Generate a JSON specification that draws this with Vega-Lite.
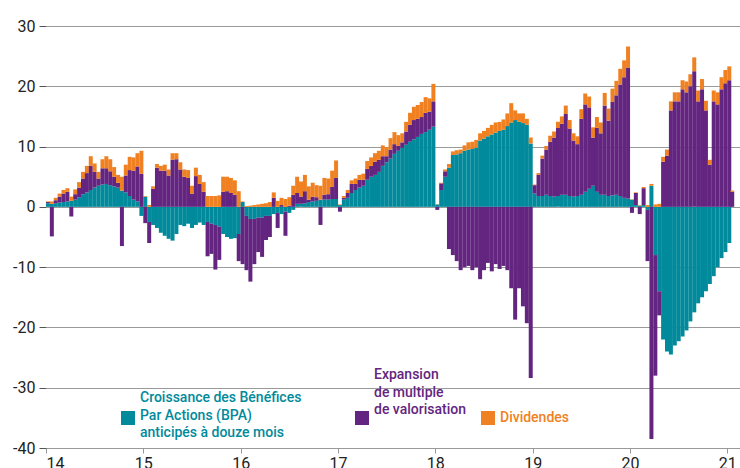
{
"$schema": "https://vega.github.io/schema/vega-lite/v6.json",
"width": 694, "height": 422,
"autosize": {"type": "none"},
"padding": {"left": 46, "top": 26, "right": 0, "bottom": 20},
"background": "white",
"config": {"view": {"stroke": null}, "font": "Roboto"},
"data": {"values": [
{"t":14.02,"benefices":0.6,"multiple":0.2,"rendement":0.1},
{"t":14.06,"benefices":0.5,"multiple":-4.9,"rendement":0.4},
{"t":14.10,"benefices":0.6,"multiple":0.5,"rendement":0.4},
{"t":14.14,"benefices":0.7,"multiple":1.0,"rendement":0.5},
{"t":14.18,"benefices":0.8,"multiple":1.4,"rendement":0.6},
{"t":14.22,"benefices":0.9,"multiple":1.6,"rendement":0.6},
{"t":14.26,"benefices":1.0,"multiple":-1.6,"rendement":0.7},
{"t":14.30,"benefices":1.2,"multiple":0.9,"rendement":0.8},
{"t":14.34,"benefices":1.6,"multiple":1.6,"rendement":0.9},
{"t":14.38,"benefices":2.1,"multiple":2.6,"rendement":1.1},
{"t":14.42,"benefices":2.4,"multiple":3.2,"rendement":1.2},
{"t":14.46,"benefices":2.8,"multiple":4.0,"rendement":1.6},
{"t":14.50,"benefices":3.2,"multiple":2.6,"rendement":1.4},
{"t":14.54,"benefices":3.5,"multiple":1.2,"rendement":1.1},
{"t":14.58,"benefices":3.7,"multiple":2.7,"rendement":1.5},
{"t":14.62,"benefices":3.8,"multiple":2.6,"rendement":2.0},
{"t":14.66,"benefices":3.6,"multiple":2.3,"rendement":2.0},
{"t":14.70,"benefices":3.4,"multiple":1.6,"rendement":1.6},
{"t":14.74,"benefices":3.2,"multiple":0.8,"rendement":1.3},
{"t":14.78,"benefices":2.7,"multiple":-6.5,"rendement":2.3},
{"t":14.82,"benefices":2.4,"multiple":2.8,"rendement":1.8},
{"t":14.86,"benefices":1.8,"multiple":4.3,"rendement":2.2},
{"t":14.90,"benefices":1.2,"multiple":4.8,"rendement":2.2},
{"t":14.94,"benefices":0.9,"multiple":5.8,"rendement":2.2},
{"t":14.98,"benefices":-1.5,"multiple":5.5,"rendement":3.8},
{"t":15.02,"benefices":1.7,"multiple":-2.7,"rendement":0.1},
{"t":15.06,"benefices":-2.5,"multiple":-3.5,"rendement":0.3},
{"t":15.10,"benefices":-3.0,"multiple":3.0,"rendement":0.4},
{"t":15.14,"benefices":-3.5,"multiple":6.5,"rendement":0.6},
{"t":15.18,"benefices":-4.3,"multiple":6.0,"rendement":0.8},
{"t":15.22,"benefices":-4.8,"multiple":6.0,"rendement":1.0},
{"t":15.26,"benefices":-5.3,"multiple":5.2,"rendement":1.0},
{"t":15.30,"benefices":-5.6,"multiple":7.8,"rendement":1.1},
{"t":15.34,"benefices":-4.5,"multiple":7.9,"rendement":1.0},
{"t":15.38,"benefices":-3.0,"multiple":6.2,"rendement":1.2},
{"t":15.42,"benefices":-3.2,"multiple":5.0,"rendement":1.2},
{"t":15.46,"benefices":-2.8,"multiple":4.8,"rendement":1.3},
{"t":15.50,"benefices":-3.5,"multiple":2.2,"rendement":1.3},
{"t":15.54,"benefices":-3.0,"multiple":5.1,"rendement":1.4},
{"t":15.58,"benefices":-2.6,"multiple":3.8,"rendement":1.5},
{"t":15.62,"benefices":-3.0,"multiple":2.5,"rendement":1.6},
{"t":15.66,"benefices":-2.5,"multiple":-5.7,"rendement":1.8},
{"t":15.70,"benefices":-2.8,"multiple":-5.0,"rendement":1.8},
{"t":15.74,"benefices":-3.0,"multiple":-7.4,"rendement":1.8},
{"t":15.78,"benefices":-3.3,"multiple":-5.5,"rendement":1.9},
{"t":15.82,"benefices":-4.5,"multiple":2.5,"rendement":2.5},
{"t":15.86,"benefices":-5.0,"multiple":2.6,"rendement":2.4},
{"t":15.90,"benefices":-5.3,"multiple":2.3,"rendement":2.5},
{"t":15.94,"benefices":-5.2,"multiple":2.0,"rendement":2.4},
{"t":15.98,"benefices":-4.5,"multiple":-4.5,"rendement":2.6},
{"t":16.02,"benefices":0.8,"multiple":-9.5,"rendement":0.1},
{"t":16.06,"benefices":-1.5,"multiple":-9.0,"rendement":0.15},
{"t":16.10,"benefices":-2.0,"multiple":-10.4,"rendement":0.2},
{"t":16.14,"benefices":-2.0,"multiple":-7.5,"rendement":0.3},
{"t":16.18,"benefices":-1.8,"multiple":-5.7,"rendement":0.4},
{"t":16.22,"benefices":-1.8,"multiple":-6.5,"rendement":0.5},
{"t":16.26,"benefices":-1.5,"multiple":-4.0,"rendement":0.6},
{"t":16.30,"benefices":-1.5,"multiple":-3.5,"rendement":0.8},
{"t":16.34,"benefices":-1.2,"multiple":1.5,"rendement":0.9},
{"t":16.38,"benefices":-1.0,"multiple":-2.5,"rendement":1.0},
{"t":16.42,"benefices":-1.2,"multiple":0.3,"rendement":1.2},
{"t":16.46,"benefices":-0.8,"multiple":-4.0,"rendement":1.3},
{"t":16.50,"benefices":-1.0,"multiple":0.2,"rendement":1.4},
{"t":16.54,"benefices":-0.5,"multiple":2.0,"rendement":1.5},
{"t":16.58,"benefices":0.5,"multiple":1.8,"rendement":2.7},
{"t":16.62,"benefices":0.5,"multiple":1.2,"rendement":2.5},
{"t":16.66,"benefices":0.6,"multiple":2.0,"rendement":2.7},
{"t":16.70,"benefices":0.8,"multiple":0.4,"rendement":2.2},
{"t":16.74,"benefices":0.9,"multiple":0.8,"rendement":2.3},
{"t":16.78,"benefices":1.0,"multiple":0.6,"rendement":2.0},
{"t":16.82,"benefices":1.2,"multiple":-3.0,"rendement":2.3},
{"t":16.86,"benefices":1.2,"multiple":0.8,"rendement":2.8},
{"t":16.90,"benefices":1.2,"multiple":0.9,"rendement":2.6},
{"t":16.94,"benefices":1.3,"multiple":2.0,"rendement":2.7},
{"t":16.98,"benefices":1.3,"multiple":3.5,"rendement":2.9},
{"t":17.02,"benefices":0.3,"multiple":-0.8,"rendement":0.1},
{"t":17.06,"benefices":1.2,"multiple":0.3,"rendement":0.3},
{"t":17.10,"benefices":1.5,"multiple":0.8,"rendement":0.5},
{"t":17.14,"benefices":2.3,"multiple":1.5,"rendement":0.6},
{"t":17.18,"benefices":2.8,"multiple":1.0,"rendement":0.9},
{"t":17.22,"benefices":3.2,"multiple":1.3,"rendement":0.8},
{"t":17.26,"benefices":3.5,"multiple":1.0,"rendement":1.0},
{"t":17.30,"benefices":4.5,"multiple":1.8,"rendement":1.3},
{"t":17.34,"benefices":5.0,"multiple":1.8,"rendement":1.4},
{"t":17.38,"benefices":5.3,"multiple":2.2,"rendement":1.4},
{"t":17.42,"benefices":5.8,"multiple":2.0,"rendement":1.5},
{"t":17.46,"benefices":6.8,"multiple":1.6,"rendement":1.8},
{"t":17.50,"benefices":7.4,"multiple":1.0,"rendement":1.5},
{"t":17.54,"benefices":8.0,"multiple":1.5,"rendement":1.9},
{"t":17.58,"benefices":8.8,"multiple":1.6,"rendement":2.0},
{"t":17.62,"benefices":9.3,"multiple":0.8,"rendement":1.8},
{"t":17.66,"benefices":9.8,"multiple":0.9,"rendement":1.5},
{"t":17.70,"benefices":10.3,"multiple":2.2,"rendement":1.6},
{"t":17.74,"benefices":10.8,"multiple":2.8,"rendement":2.0},
{"t":17.78,"benefices":11.2,"multiple":3.2,"rendement":2.2},
{"t":17.82,"benefices":11.6,"multiple":3.0,"rendement":2.3},
{"t":17.86,"benefices":12.1,"multiple":2.8,"rendement":2.5},
{"t":17.90,"benefices":12.4,"multiple":3.2,"rendement":2.6},
{"t":17.94,"benefices":12.8,"multiple":3.0,"rendement":2.2},
{"t":17.98,"benefices":13.3,"multiple":4.2,"rendement":2.9},
{"t":18.02,"benefices":0.4,"multiple":-0.5,"rendement":0.05},
{"t":18.06,"benefices":2.8,"multiple":1.1,"rendement":0.1},
{"t":18.10,"benefices":5.0,"multiple":0.9,"rendement":0.3},
{"t":18.14,"benefices":6.5,"multiple":-7.0,"rendement":0.6},
{"t":18.18,"benefices":8.6,"multiple":-8.0,"rendement":0.6},
{"t":18.22,"benefices":8.7,"multiple":-9.0,"rendement":0.7},
{"t":18.26,"benefices":8.9,"multiple":-10.5,"rendement":0.6},
{"t":18.30,"benefices":9.3,"multiple":-10.0,"rendement":0.9},
{"t":18.34,"benefices":9.5,"multiple":-9.8,"rendement":1.2},
{"t":18.38,"benefices":9.6,"multiple":-10.5,"rendement":1.2},
{"t":18.42,"benefices":9.8,"multiple":-10.0,"rendement":1.3},
{"t":18.46,"benefices":11.0,"multiple":-12.0,"rendement":1.2},
{"t":18.50,"benefices":11.3,"multiple":-10.5,"rendement":1.3},
{"t":18.54,"benefices":11.7,"multiple":-9.3,"rendement":1.4},
{"t":18.58,"benefices":12.0,"multiple":-10.7,"rendement":1.6},
{"t":18.62,"benefices":12.3,"multiple":-9.5,"rendement":1.7},
{"t":18.66,"benefices":12.6,"multiple":-10.3,"rendement":1.5},
{"t":18.70,"benefices":12.8,"multiple":-9.8,"rendement":1.7},
{"t":18.74,"benefices":13.4,"multiple":-10.5,"rendement":2.1},
{"t":18.78,"benefices":14.0,"multiple":-13.5,"rendement":3.2},
{"t":18.82,"benefices":14.4,"multiple":-18.7,"rendement":1.6},
{"t":18.86,"benefices":14.1,"multiple":-13.5,"rendement":1.4},
{"t":18.90,"benefices":13.9,"multiple":-16.5,"rendement":1.6},
{"t":18.94,"benefices":13.6,"multiple":-19.3,"rendement":1.0},
{"t":18.98,"benefices":10.5,"multiple":-28.4,"rendement":1.0},
{"t":19.02,"benefices":2.2,"multiple":1.4,"rendement":0.1},
{"t":19.06,"benefices":1.8,"multiple":3.5,"rendement":0.3},
{"t":19.10,"benefices":1.8,"multiple":6.2,"rendement":0.5},
{"t":19.14,"benefices":2.0,"multiple":7.5,"rendement":0.6},
{"t":19.18,"benefices":1.8,"multiple":9.0,"rendement":1.0},
{"t":19.22,"benefices":1.7,"multiple":9.8,"rendement":1.0},
{"t":19.26,"benefices":1.8,"multiple":11.3,"rendement":1.0},
{"t":19.30,"benefices":2.0,"multiple":11.8,"rendement":1.2},
{"t":19.34,"benefices":2.0,"multiple":13.4,"rendement":1.4},
{"t":19.38,"benefices":1.8,"multiple":11.2,"rendement":1.4},
{"t":19.42,"benefices":1.7,"multiple":9.3,"rendement":1.2},
{"t":19.46,"benefices":1.8,"multiple":8.6,"rendement":1.3},
{"t":19.50,"benefices":2.0,"multiple":12.6,"rendement":1.6},
{"t":19.54,"benefices":2.5,"multiple":14.5,"rendement":1.8},
{"t":19.58,"benefices":3.0,"multiple":13.5,"rendement":1.8},
{"t":19.62,"benefices":3.5,"multiple":8.0,"rendement":1.7},
{"t":19.66,"benefices":2.5,"multiple":10.6,"rendement":1.8},
{"t":19.70,"benefices":2.0,"multiple":10.2,"rendement":1.8},
{"t":19.74,"benefices":2.0,"multiple":14.8,"rendement":2.1},
{"t":19.78,"benefices":1.8,"multiple":12.5,"rendement":2.0},
{"t":19.82,"benefices":1.9,"multiple":15.5,"rendement":2.2},
{"t":19.86,"benefices":2.0,"multiple":16.5,"rendement":2.4},
{"t":19.90,"benefices":1.8,"multiple":18.5,"rendement":2.6},
{"t":19.94,"benefices":1.5,"multiple":20.0,"rendement":2.8},
{"t":19.98,"benefices":1.4,"multiple":21.7,"rendement":3.5},
{"t":20.02,"benefices":1.2,"multiple":-1.0,"rendement":0.05},
{"t":20.06,"benefices":0.3,"multiple":2.0,"rendement":0.1},
{"t":20.10,"benefices":0.2,"multiple":-1.2,"rendement":0.1},
{"t":20.14,"benefices":0.3,"multiple":2.8,"rendement":0.2},
{"t":20.18,"benefices":-0.5,"multiple":-8.5,"rendement":0.3},
{"t":20.22,"benefices":3.5,"multiple":-38.5,"rendement":0.3},
{"t":20.26,"benefices":-8.0,"multiple":-20.0,"rendement":0.4},
{"t":20.30,"benefices":-14.0,"multiple":-4.0,"rendement":0.5},
{"t":20.34,"benefices":-22.0,"multiple":7.5,"rendement":0.8},
{"t":20.38,"benefices":-24.0,"multiple":8.5,"rendement":1.0},
{"t":20.42,"benefices":-24.5,"multiple":16.0,"rendement":1.5},
{"t":20.46,"benefices":-23.0,"multiple":17.5,"rendement":1.5},
{"t":20.50,"benefices":-22.3,"multiple":17.5,"rendement":1.5},
{"t":20.54,"benefices":-21.5,"multiple":19.5,"rendement":1.5},
{"t":20.58,"benefices":-20.5,"multiple":19.0,"rendement":1.8},
{"t":20.62,"benefices":-19.0,"multiple":20.0,"rendement":2.0},
{"t":20.66,"benefices":-17.5,"multiple":22.5,"rendement":2.3},
{"t":20.70,"benefices":-16.0,"multiple":17.5,"rendement":1.8},
{"t":20.74,"benefices":-15.0,"multiple":19.5,"rendement":1.7},
{"t":20.78,"benefices":-14.0,"multiple":16.0,"rendement":1.6},
{"t":20.82,"benefices":-12.8,"multiple":7.0,"rendement":0.8},
{"t":20.86,"benefices":-11.5,"multiple":17.5,"rendement":1.8},
{"t":20.90,"benefices":-10.0,"multiple":17.0,"rendement":2.0},
{"t":20.94,"benefices":-8.5,"multiple":19.5,"rendement":2.0},
{"t":20.98,"benefices":-7.5,"multiple":20.5,"rendement":2.2},
{"t":21.02,"benefices":-6.0,"multiple":21.0,"rendement":2.3},
{"t":21.05,"benefices":0.0,"multiple":2.5,"rendement":0.2}
]},
"transform": [{"fold": ["benefices", "multiple", "rendement"], "as": ["composante", "valeur"]}],
"mark": {"type": "bar", "size": 4},
"encoding": {
  "x": {"field": "t", "type": "quantitative",
        "scale": {"domain": [14, 21.13], "nice": false, "zero": false, "padding": 0},
        "axis": {"values": [14,15,16,17,18,19,20,21], "format": "d", "grid": false, "title": null,
                 "domainColor": "#999999", "tickColor": "#999999", "tickSize": 5,
                 "labelFont": "Roboto", "labelFontSize": 16, "labelColor": "#222222", "labelPadding": 2}},
  "y": {"field": "valeur", "type": "quantitative", "stack": "zero",
        "scale": {"domain": [-40, 30], "nice": false},
        "axis": {"values": [-40,-30,-20,-10,0,10,20,30], "domain": false, "grid": true, "gridColor": "#9a9a9a",
                 "gridWidth": 1, "tickColor": "#555555", "tickSize": 7, "title": null,
                 "labelFont": "Roboto", "labelFontSize": 16, "labelColor": "#222222", "labelPadding": 4,
                 "labelExpr": "toString(datum.value)"}},
  "color": {"field": "composante", "type": "nominal",
            "scale": {"domain": ["benefices", "multiple", "rendement"], "range": ["#008A9C", "#632580", "#F08122"]},
            "legend": {"title": null, "orient": "none", "legendX": 75, "legendY": 370, "direction": "horizontal",
                       "padding": 0, "symbolType": "square", "symbolSize": 196, "symbolStrokeWidth": 0,
                       "labelFont": "Roboto", "labelFontSize": 14, "labelFontWeight": 500, "labelOffset": 5,
                       "labelLimit": 400, "columnPadding": 11, "labelBaseline": "middle",
                       "labelExpr": "datum.value == 'benefices' ? ['Croissance des Bénéfices', 'Par Actions (BPA)', 'anticipés à douze mois'] : datum.value == 'multiple' ? ['Expansion', 'de multiple', 'de valorisation'] : 'Dividendes'",
                       "encode": {"labels": {"update": {"fill": {"scale": "color", "field": "value"}, "lineHeight": {"value": 17.5},
                                                        "dy": {"signal": "datum.value == 'benefices' ? -5 : datum.value == 'multiple' ? -43 : 0"},
                                                        "dx": {"signal": "datum.value == 'multiple' ? 42 : datum.value == 'rendement' ? 3 : 0"}}},
                                  "symbols": {"update": {"fillOpacity": {"value": 1},
                                                         "y": {"signal": "datum.size * 0.5 + (datum.value == 'benefices' ? 15 : 0)"},
                                                         "x": {"signal": "datum.size * 0.5 + (datum.value == 'multiple' ? 42 : datum.value == 'rendement' ? 3 : 0)"}}}}}},
  "order": {"field": "composante", "sort": "ascending"}
}
}
